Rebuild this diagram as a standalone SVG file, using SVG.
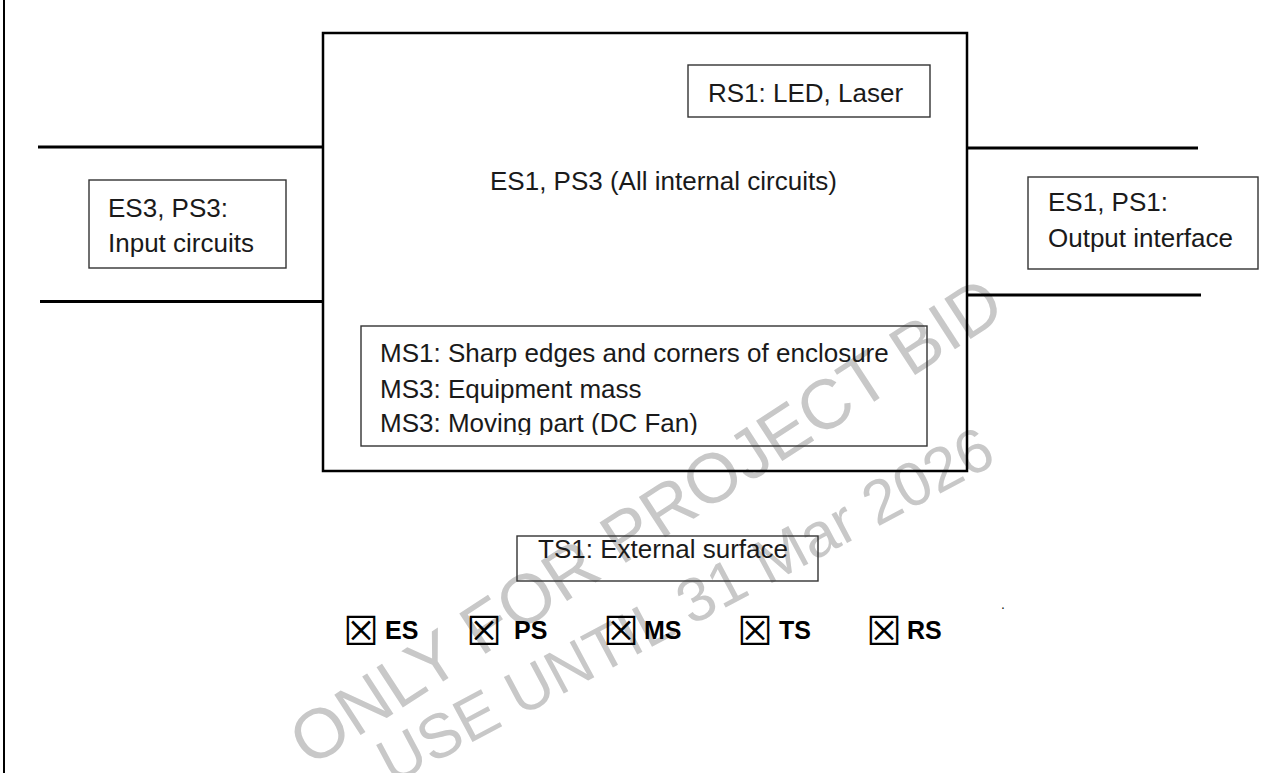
<svg xmlns="http://www.w3.org/2000/svg" width="1282" height="773" viewBox="0 0 1282 773">
<style>
.t{font-family:"Liberation Sans",Arial,sans-serif;font-size:26px;fill:#1a1a1a}
.b{font-family:"Liberation Sans",Arial,sans-serif;font-size:25px;font-weight:bold;fill:#000}
.cb{font-family:"DejaVu Sans",sans-serif;font-size:40px;fill:#000}
.box{fill:none;stroke:#333;stroke-width:1.4}
.wire{stroke:#000;stroke-width:3;fill:none}
.wm{font-family:"Liberation Sans",Arial,sans-serif;fill:#c8c8c8}
</style>
<defs>
<clipPath id="msclip"><rect x="356" y="326" width="600" height="109"/></clipPath>
</defs>
<rect width="1282" height="773" fill="#fff"/>
<g id="watermark">
<text class="wm" font-size="70" transform="translate(310,768) rotate(-33)">ONLY FOR PROJECT BID</text>
<text class="wm" font-size="62" transform="translate(392,785) rotate(-28)">USE UNTIL 31 Mar 2026</text>
</g>
<line x1="4" y1="0" x2="4" y2="773" stroke="#000" stroke-width="2"/>
<g id="connectors">
<line class="wire" x1="38" y1="147" x2="323" y2="147"/>
<line class="wire" x1="40" y1="301.5" x2="323" y2="301.5"/>
<line class="wire" x1="967" y1="148" x2="1198" y2="148"/>
<line class="wire" x1="967" y1="295" x2="1201" y2="295"/>
</g>
<g id="main">
<rect x="323" y="33" width="644" height="438" fill="none" stroke="#000" stroke-width="2.5"/>
<text class="t" x="490" y="190">ES1, PS3 (All internal circuits)</text>
</g>
<g id="rs1">
<rect class="box" x="688" y="65" width="242" height="52"/>
<text class="t" x="708" y="102">RS1: LED, Laser</text>
</g>
<g id="input">
<rect class="box" x="89" y="180" width="197" height="88"/>
<text class="t" x="108" y="217">ES3, PS3:</text>
<text class="t" x="108" y="252">Input circuits</text>
</g>
<g id="output">
<rect class="box" x="1028" y="177" width="230" height="92"/>
<text class="t" x="1048" y="211">ES1, PS1:</text>
<text class="t" x="1048" y="247">Output interface</text>
</g>
<g id="ms">
<rect class="box" x="361" y="326" width="566" height="120"/>
<g clip-path="url(#msclip)">
<text class="t" x="380" y="362">MS1: Sharp edges and corners of enclosure</text>
<text class="t" x="380" y="398">MS3: Equipment mass</text>
<text class="t" x="380" y="432">MS3: Moving part (DC Fan)</text>
</g>
</g>
<g id="ts1">
<rect class="box" x="517" y="536" width="301" height="45"/>
<text class="t" x="538" y="558">TS1: External surface</text>
</g>
<g id="legend">
<text class="cb" x="343" y="645">☒</text><text class="b" x="385" y="639">ES</text>
<text class="cb" x="466" y="645">☒</text><text class="b" x="514" y="639">PS</text>
<text class="cb" x="603" y="645">☒</text><text class="b" x="644" y="639">MS</text>
<text class="cb" x="737" y="645">☒</text><text class="b" x="779" y="639">TS</text>
<text class="cb" x="866" y="645">☒</text><text class="b" x="907" y="639">RS</text>
</g>
<text class="t" x="1001" y="609" style="font-size:14px">.</text>
</svg>
